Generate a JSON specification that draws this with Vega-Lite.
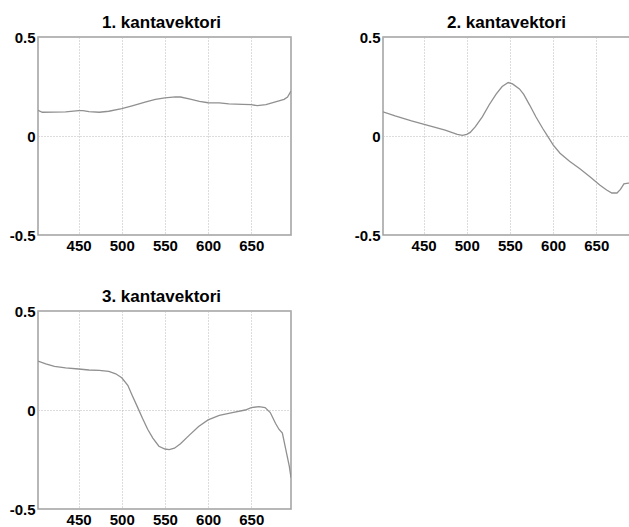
{
  "$schema": "https://vega.github.io/schema/vega-lite/v6.json",
  "background": "white",
  "padding": {"left": 8, "top": 13, "right": 0, "bottom": 5},
  "datasets": {
    "k1": [
      {"wl": 403, "val": 0.13}, {"wl": 408, "val": 0.12}, {"wl": 435, "val": 0.122}, {"wl": 450, "val": 0.128},
      {"wl": 455, "val": 0.128}, {"wl": 462, "val": 0.123}, {"wl": 474, "val": 0.12}, {"wl": 485, "val": 0.125},
      {"wl": 500, "val": 0.138}, {"wl": 512, "val": 0.152}, {"wl": 528, "val": 0.172}, {"wl": 539, "val": 0.185},
      {"wl": 550, "val": 0.193}, {"wl": 562, "val": 0.198}, {"wl": 568, "val": 0.197}, {"wl": 578, "val": 0.187},
      {"wl": 590, "val": 0.175}, {"wl": 600, "val": 0.168}, {"wl": 613, "val": 0.167}, {"wl": 624, "val": 0.162},
      {"wl": 640, "val": 0.16}, {"wl": 650, "val": 0.158}, {"wl": 657, "val": 0.153}, {"wl": 667, "val": 0.158},
      {"wl": 678, "val": 0.172}, {"wl": 688, "val": 0.185}, {"wl": 692, "val": 0.197}, {"wl": 696, "val": 0.227}
    ],
    "k2": [
      {"wl": 403, "val": 0.122}, {"wl": 417, "val": 0.102}, {"wl": 436, "val": 0.077}, {"wl": 456, "val": 0.053},
      {"wl": 475, "val": 0.03}, {"wl": 489, "val": 0.008}, {"wl": 495, "val": 0.003}, {"wl": 500, "val": 0.008},
      {"wl": 504, "val": 0.018}, {"wl": 510, "val": 0.047}, {"wl": 518, "val": 0.097}, {"wl": 526, "val": 0.158},
      {"wl": 534, "val": 0.212}, {"wl": 541, "val": 0.25}, {"wl": 548, "val": 0.27}, {"wl": 553, "val": 0.263},
      {"wl": 561, "val": 0.238}, {"wl": 566, "val": 0.21}, {"wl": 573, "val": 0.155}, {"wl": 580, "val": 0.097},
      {"wl": 588, "val": 0.038}, {"wl": 594, "val": -0.003}, {"wl": 600, "val": -0.045}, {"wl": 608, "val": -0.087},
      {"wl": 619, "val": -0.128}, {"wl": 631, "val": -0.165}, {"wl": 643, "val": -0.207}, {"wl": 654, "val": -0.248},
      {"wl": 662, "val": -0.273}, {"wl": 668, "val": -0.288}, {"wl": 674, "val": -0.288}, {"wl": 678, "val": -0.27},
      {"wl": 682, "val": -0.242}, {"wl": 687, "val": -0.238}, {"wl": 689, "val": -0.238}, {"wl": 696, "val": -0.24}
    ],
    "k3": [
      {"wl": 403, "val": 0.247}, {"wl": 412, "val": 0.233}, {"wl": 422, "val": 0.22}, {"wl": 435, "val": 0.213},
      {"wl": 450, "val": 0.207}, {"wl": 462, "val": 0.202}, {"wl": 474, "val": 0.2}, {"wl": 485, "val": 0.195},
      {"wl": 493, "val": 0.183}, {"wl": 500, "val": 0.163}, {"wl": 507, "val": 0.125}, {"wl": 512, "val": 0.075},
      {"wl": 518, "val": 0.017}, {"wl": 524, "val": -0.042}, {"wl": 530, "val": -0.097}, {"wl": 536, "val": -0.142},
      {"wl": 543, "val": -0.183}, {"wl": 550, "val": -0.197}, {"wl": 555, "val": -0.2}, {"wl": 561, "val": -0.193},
      {"wl": 568, "val": -0.17}, {"wl": 578, "val": -0.128}, {"wl": 589, "val": -0.083}, {"wl": 600, "val": -0.05},
      {"wl": 613, "val": -0.027}, {"wl": 628, "val": -0.013}, {"wl": 643, "val": 0.0}, {"wl": 650, "val": 0.012},
      {"wl": 659, "val": 0.017}, {"wl": 666, "val": 0.012}, {"wl": 672, "val": -0.013}, {"wl": 678, "val": -0.067},
      {"wl": 682, "val": -0.097}, {"wl": 686, "val": -0.117}, {"wl": 690, "val": -0.2}, {"wl": 694, "val": -0.283},
      {"wl": 696, "val": -0.342}
    ]
  },
  "columns": 2,
  "spacing": {"row": 76, "column": 92},
  "bounds": "flush",
  "config": {
    "view": {"stroke": "#a0a0a0", "strokeWidth": 1.5},
    "axis": {
      "domain": false,
      "ticks": false,
      "labelFont": "Liberation Sans",
      "labelFontSize": 15,
      "labelFontWeight": "bold",
      "labelColor": "black",
      "labelPadding": 3,
      "grid": true,
      "gridColor": "#b8b8b8",
      "gridDash": [1, 2],
      "gridWidth": 1,
      "title": null
    },
    "title": {"font": "Liberation Sans", "fontSize": 17, "fontWeight": "bold", "color": "black", "baseline": "alphabetic", "offset": -2, "anchor": "middle", "dx": -3}
  },
  "concat": [
    {
      "width": 253, "height": 198,
      "title": "1. kantavektori",
      "data": {"name": "k1"},
      "mark": {"type": "line", "color": "#909090", "strokeWidth": 1.3, "clip": true},
      "encoding": {
        "x": {"field": "wl", "type": "quantitative", "scale": {"domain": [403, 696], "nice": false, "zero": false}, "axis": {"values": [450, 500, 550, 600, 650]}},
        "y": {"field": "val", "type": "quantitative", "scale": {"domain": [-0.5, 0.5], "nice": false}, "axis": {"values": [-0.5, 0, 0.5], "labelPadding": 3, "labelExpr": "datum.value > 0.25 ? '0.5' : (datum.value < -0.25 ? '-0.5' : '0')"}}
      }
    },
    {
      "width": 253, "height": 198,
      "title": "2. kantavektori",
      "data": {"name": "k2"},
      "mark": {"type": "line", "color": "#909090", "strokeWidth": 1.3, "clip": true},
      "encoding": {
        "x": {"field": "wl", "type": "quantitative", "scale": {"domain": [403, 696], "nice": false, "zero": false}, "axis": {"values": [450, 500, 550, 600, 650]}},
        "y": {"field": "val", "type": "quantitative", "scale": {"domain": [-0.5, 0.5], "nice": false}, "axis": {"values": [-0.5, 0, 0.5], "labelPadding": 3, "labelExpr": "datum.value > 0.25 ? '0.5' : (datum.value < -0.25 ? '-0.5' : '0')"}}
      }
    },
    {
      "width": 253, "height": 198,
      "title": "3. kantavektori",
      "data": {"name": "k3"},
      "mark": {"type": "line", "color": "#909090", "strokeWidth": 1.3, "clip": true},
      "encoding": {
        "x": {"field": "wl", "type": "quantitative", "scale": {"domain": [403, 696], "nice": false, "zero": false}, "axis": {"values": [450, 500, 550, 600, 650]}},
        "y": {"field": "val", "type": "quantitative", "scale": {"domain": [-0.5, 0.5], "nice": false}, "axis": {"values": [-0.5, 0, 0.5], "labelPadding": 3, "labelExpr": "datum.value > 0.25 ? '0.5' : (datum.value < -0.25 ? '-0.5' : '0')"}}
      }
    }
  ]
}
